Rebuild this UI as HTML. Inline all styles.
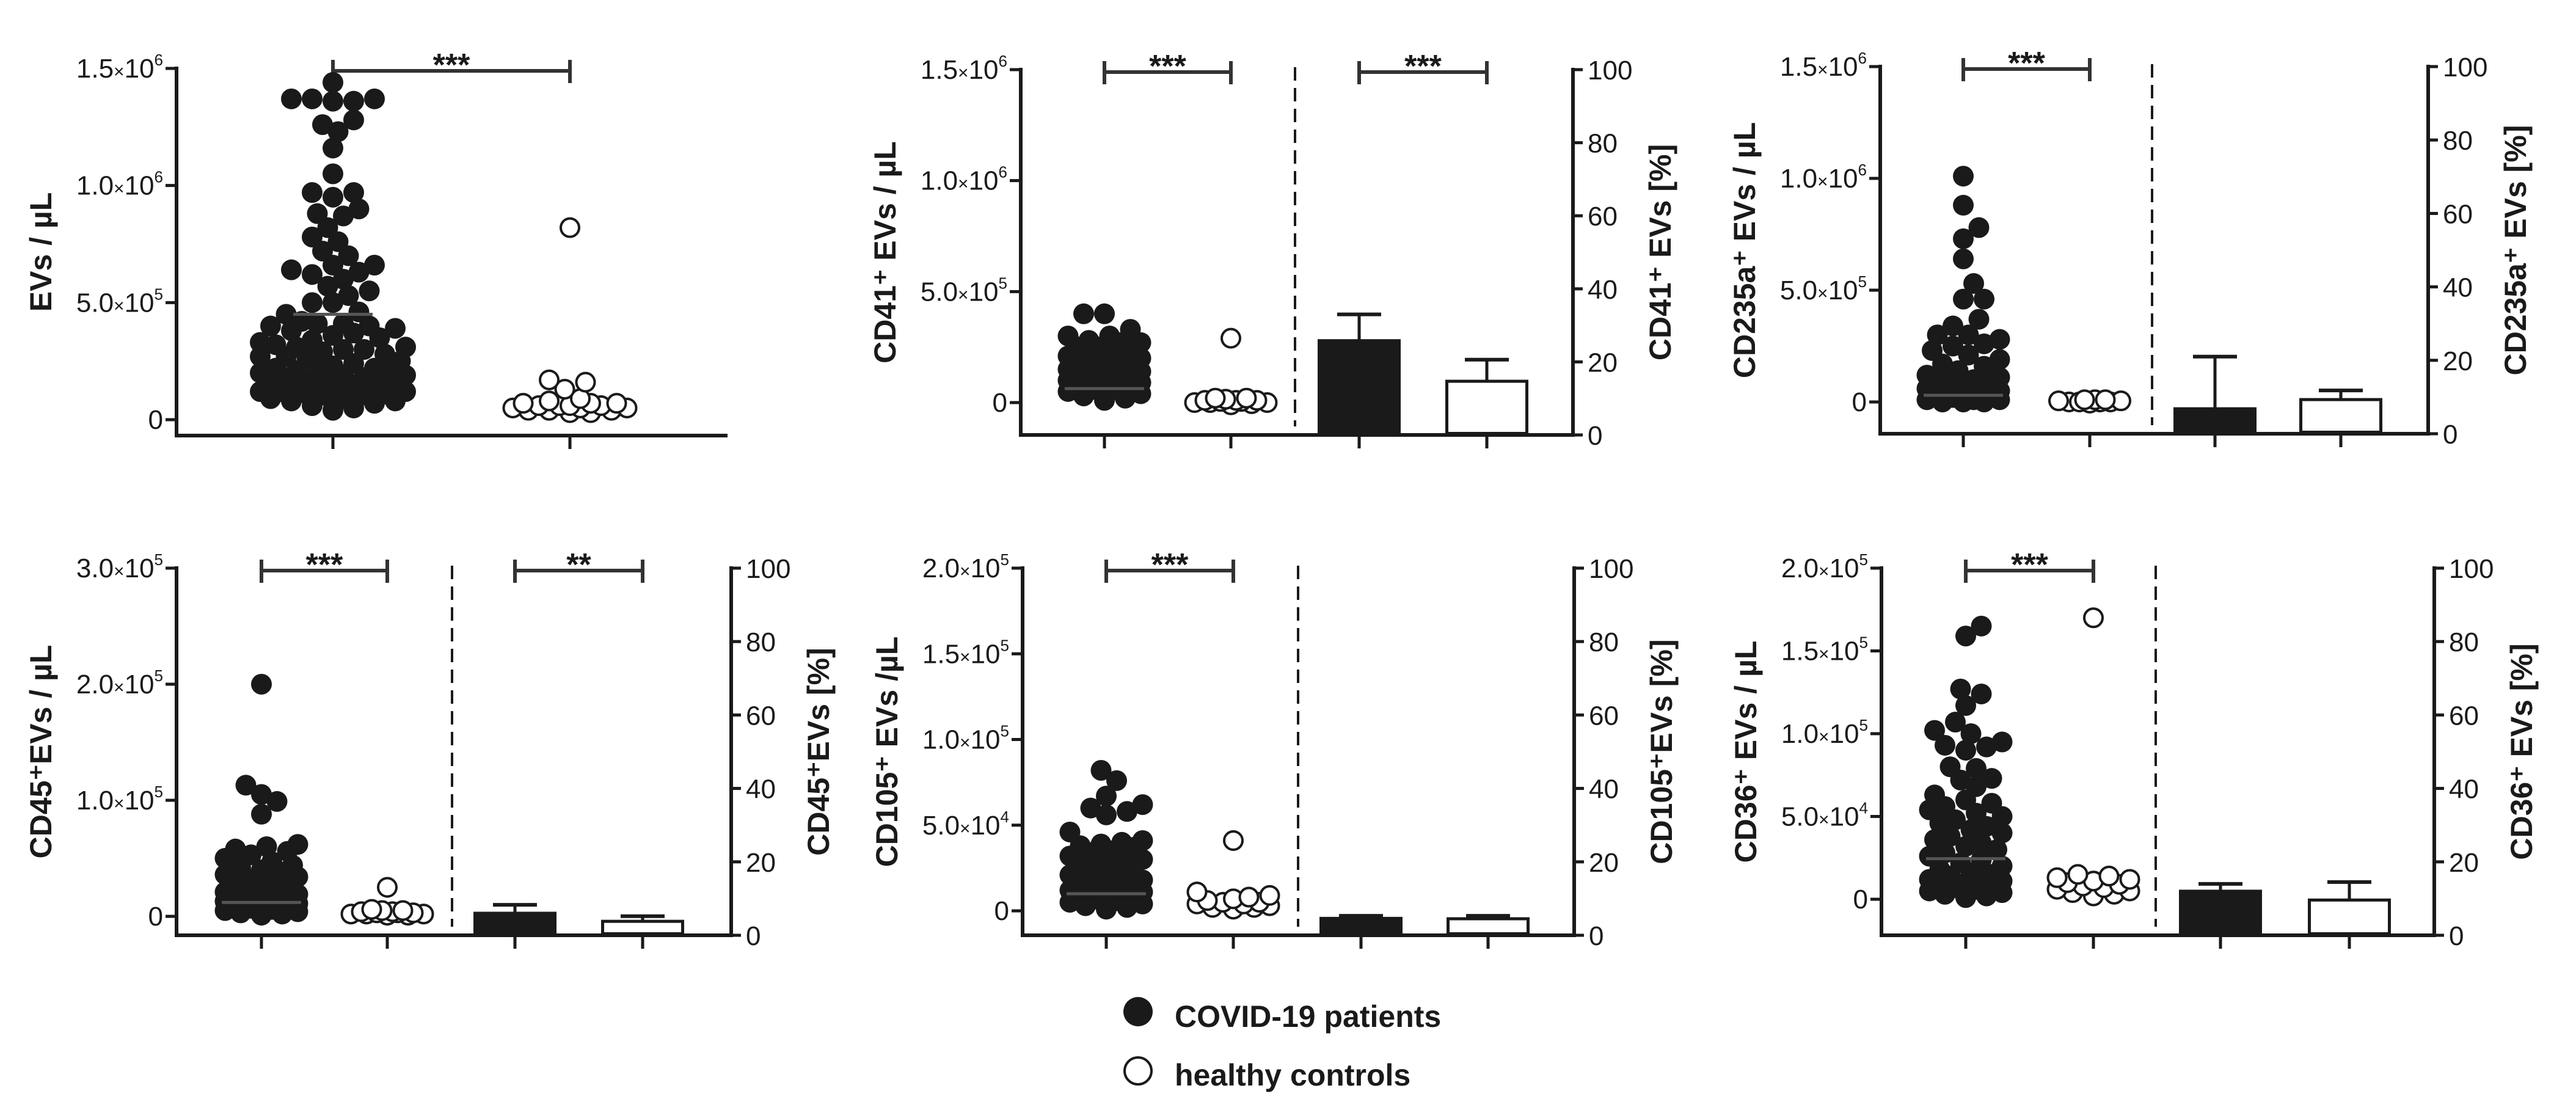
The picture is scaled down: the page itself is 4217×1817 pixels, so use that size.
<!DOCTYPE html>
<html><head><meta charset="utf-8"><style>
html,body{margin:0;padding:0;background:#fff;}
svg{display:block;font-family:"Liberation Sans",Arial,sans-serif;}
</style></head><body>
<svg id="fig" width="4217" height="1817" viewBox="0 0 4217 1817" xmlns="http://www.w3.org/2000/svg">
<g id="legend">
<circle cx="1863" cy="1656" r="24" fill="#1a1a1a"/>
<text x="1923" y="1681" font-size="50" font-weight="bold" fill="#1a1a1a">COVID-19 patients</text>
<circle cx="1863" cy="1753" r="22" fill="#fff" stroke="#1a1a1a" stroke-width="4"/>
<text x="1923" y="1777" font-size="50" font-weight="bold" fill="#1a1a1a">healthy controls</text>
</g>
</svg>
<script>
// ---- data ----
const covid1 = [1.44e6,1.37e6,1.36e6,1.36e6,1.37e6,1.37e6,1.28e6,1.26e6,1.23e6,1.16e6,1.05e6,0.97e6,0.95e6,0.97e6,0.90e6,0.87e6,0.88e6,0.82e6,0.78e6,0.76e6,0.72e6,0.70e6,0.66e6,0.66e6,0.63e6,0.64e6,0.62e6,0.60e6,0.57e6,0.53e6,0.55e6,0.50e6,0.50e6,0.46e6,0.45e6,0.42e6,0.41e6,0.41e6,0.40e6,0.40e6,0.39e6,0.38e6,0.37e6,0.36e6,0.35e6,0.34e6,0.33e6,0.32e6,0.31e6,0.31e6,0.30e6,0.30e6,0.29e6,0.28e6,0.27e6,0.27e6,0.26e6,0.25e6,0.24e6,0.23e6,0.22e6,0.22e6,0.21e6,0.21e6,0.20e6,0.20e6,0.19e6,0.19e6,0.18e6,0.18e6,0.17e6,0.17e6,0.16e6,0.16e6,0.15e6,0.15e6,0.14e6,0.14e6,0.13e6,0.13e6,0.12e6,0.12e6,0.12e6,0.11e6,0.11e6,0.10e6,0.10e6,0.09e6,0.09e6,0.08e6,0.08e6,0.07e6,0.06e6,0.05e6,0.04e6];
const healthy1 = [0.82e6,0.17e6,0.16e6,0.13e6,0.09e6,0.08e6,0.07e6,0.07e6,0.06e6,0.06e6,0.06e6,0.05e6,0.05e6,0.05e6,0.04e6,0.04e6,0.04e6,0.03e6,0.03e6,0.06e6,0.07e6];
const covid2 = [0.40e6,0.40e6,0.33e6,0.30e6,0.30e6,0.28e6,0.27e6,0.27e6,0.25e6,0.25e6,0.24e6,0.23e6,0.22e6,0.21e6,0.20e6,0.20e6,0.19e6,0.18e6,0.17e6,0.17e6,0.16e6,0.15e6,0.15e6,0.14e6,0.13e6,0.13e6,0.12e6,0.11e6,0.11e6,0.10e6,0.10e6,0.09e6,0.08e6,0.08e6,0.07e6,0.06e6,0.06e6,0.05e6,0.04e6,0.03e6,0.02e6,0.01e6];
const healthy2 = [0.29e6,0.02e6,0.02e6,0.015e6,0.01e6,0.01e6,0.01e6,0.005e6,0.005e6,0.0,0.0,0.0,-0.005e6,-0.01e6];
const covid3 = [1.01e6,0.88e6,0.78e6,0.73e6,0.64e6,0.53e6,0.46e6,0.46e6,0.37e6,0.34e6,0.30e6,0.28e6,0.30e6,0.26e6,0.25e6,0.23e6,0.21e6,0.19e6,0.17e6,0.16e6,0.14e6,0.12e6,0.11e6,0.10e6,0.09e6,0.08e6,0.07e6,0.06e6,0.05e6,0.04e6,0.03e6,0.03e6,0.02e6,0.02e6,0.01e6,0.01e6,0.01e6,0.0,0.0,0.0];
const healthy3 = [0.01e6,0.01e6,0.01e6,0.005e6,0.005e6,0.0,0.0,0.0,0.0,-0.005e6];
const covid4 = [2.0e5,1.13e5,1.05e5,0.99e5,0.88e5,0.62e5,0.60e5,0.58e5,0.56e5,0.53e5,0.50e5,0.47e5,0.44e5,0.42e5,0.40e5,0.38e5,0.36e5,0.34e5,0.32e5,0.30e5,0.28e5,0.26e5,0.24e5,0.22e5,0.21e5,0.20e5,0.19e5,0.18e5,0.17e5,0.16e5,0.15e5,0.14e5,0.13e5,0.12e5,0.11e5,0.10e5,0.09e5,0.08e5,0.07e5,0.06e5,0.05e5,0.04e5,0.03e5,0.02e5,0.01e5];
const healthy4 = [0.25e5,0.06e5,0.05e5,0.05e5,0.04e5,0.04e5,0.03e5,0.03e5,0.03e5,0.02e5,0.02e5,0.02e5,0.01e5,0.01e5];
const covid5 = [0.82e5,0.76e5,0.67e5,0.62e5,0.60e5,0.58e5,0.56e5,0.46e5,0.41e5,0.40e5,0.39e5,0.38e5,0.37e5,0.35e5,0.34e5,0.32e5,0.30e5,0.29e5,0.28e5,0.27e5,0.25e5,0.24e5,0.22e5,0.21e5,0.20e5,0.19e5,0.18e5,0.17e5,0.16e5,0.15e5,0.14e5,0.13e5,0.12e5,0.11e5,0.10e5,0.09e5,0.08e5,0.07e5,0.06e5,0.05e5,0.04e5,0.03e5,0.02e5,0.01e5];
const healthy5 = [0.41e5,0.11e5,0.09e5,0.08e5,0.07e5,0.06e5,0.05e5,0.05e5,0.04e5,0.04e5,0.03e5,0.02e5,0.02e5,0.01e5];
const covid6 = [1.65e5,1.59e5,1.27e5,1.24e5,1.17e5,1.07e5,1.02e5,1.00e5,0.95e5,0.93e5,0.92e5,0.90e5,0.80e5,0.79e5,0.73e5,0.72e5,0.68e5,0.63e5,0.60e5,0.58e5,0.56e5,0.54e5,0.52e5,0.50e5,0.48e5,0.46e5,0.44e5,0.42e5,0.40e5,0.38e5,0.36e5,0.34e5,0.32e5,0.30e5,0.28e5,0.26e5,0.24e5,0.22e5,0.20e5,0.18e5,0.16e5,0.15e5,0.14e5,0.13e5,0.12e5,0.11e5,0.10e5,0.09e5,0.08e5,0.07e5,0.06e5,0.05e5,0.04e5,0.03e5,0.02e5,0.01e5];
const healthy6 = [1.70e5,0.15e5,0.14e5,0.13e5,0.12e5,0.11e5,0.10e5,0.09e5,0.08e5,0.07e5,0.06e5,0.05e5,0.04e5,0.03e5,0.02e5];
const meanLines = [0.45e6, 0.063e6, 0.03e6, 0.12e5, 0.10e5, 0.245e5];
const barCovid = [null, 25.8, 6.8, 6.0, 4.6, 12.0];
const barCovidErr = [null, 33.0, 21.0, 8.3, 5.3, 14.0];
const barHealthy = [null, 14.7, 9.3, 3.8, 4.5, 9.6];
const barHealthyErr = [null, 20.6, 11.8, 5.2, 5.3, 14.5];
const leftTickValues1 = [0, 5e5, 1e6, 1.5e6];
const leftTickLabels1 = [["0"],["5.0","5"],["1.0","6"],["1.5","6"]];
const leftTickValues4 = [0, 1e5, 2e5, 3e5];
const leftTickLabels4 = [["0"],["1.0","5"],["2.0","5"],["3.0","5"]];
const leftTickValues5 = [0, 5e4, 1e5, 1.5e5, 2e5];
const leftTickLabels5 = [["0"],["5.0","4"],["1.0","5"],["1.5","5"],["2.0","5"]];
const rightTickValues = [0, 20, 40, 60, 80, 100];
const leftTitles = ["EVs / µL","CD41⁺ EVs / µL","CD235a⁺ EVs / µL","CD45⁺EVs / µL","CD105⁺ EVs /µL","CD36⁺ EVs / µL"];
const rightTitles = [null,"CD41⁺ EVs [%]","CD235a⁺ EVs [%]","CD45⁺EVs [%]","CD105⁺EVs [%]","CD36⁺ EVs [%]"];
const sigLeft = ["***","***","***","***","***","***"];
const sigRight = [null,"***",null,"**",null,null];

// ---- layout ----
const panels = [
 {L:289,R:1191,yTop:112,y0:687,yBot:713,max:1.5e6,cats:[545,933],wc:125,wh:100,dash:null,c:covid1,h:healthy1,tv:leftTickValues1,tl:leftTickLabels1},
 {L:1671,R:2575,yTop:114,y0:659,yBot:712,max:1.5e6,cats:[1808,2015,2225,2434],wc:65,wh:65,dash:2120,c:covid2,h:healthy2,tv:leftTickValues1,tl:leftTickLabels1},
 {L:3078,R:3975,yTop:109,y0:658,yBot:710,max:1.5e6,cats:[3214,3421,3626,3832],wc:65,wh:55,dash:3523,c:covid3,h:healthy3,tv:leftTickValues1,tl:leftTickLabels1},
 {L:289,R:1197,yTop:930,y0:1500,yBot:1531,max:3e5,cats:[428,634,843,1052],wc:62,wh:65,dash:740,c:covid4,h:healthy4,tv:leftTickValues4,tl:leftTickLabels4},
 {L:1674,R:2577,yTop:930,y0:1491,yBot:1531,max:2e5,cats:[1811,2019,2228,2436],wc:65,wh:65,dash:2125,c:covid5,h:healthy5,tv:leftTickValues5,tl:leftTickLabels5},
 {L:3080,R:3985,yTop:930,y0:1472,yBot:1531,max:2e5,cats:[3218,3427,3635,3846],wc:65,wh:65,dash:3529,c:covid6,h:healthy6,tv:leftTickValues5,tl:leftTickLabels5}
];
const NS = "http://www.w3.org/2000/svg";
const svg = document.getElementById('fig');
const INK = "#1a1a1a";
function mk(tag, attrs, parent){ const e=document.createElementNS(NS,tag); for(const k in attrs) e.setAttribute(k,attrs[k]); (parent||svg).appendChild(e); return e; }
const R = 17;
function swarm(vals, cx, yf, maxW){
  const pts=[]; const sorted=vals.slice().sort((a,b)=>a-b);
  const step=R*0.5;
  const offs=[0]; for(let k=1;k*step<=maxW;k++){offs.push(k*step);offs.push(-k*step);}
  const need=R*1.6;
  for(const v of sorted){
    const y=yf(v); let best=null,bestD=-1;
    for(const off of offs){
      const x=cx+off; let md=1e9;
      for(const p of pts){ const dx=p.x-x, dy=p.y-y; const d=Math.sqrt(dx*dx+dy*dy); if(d<md) md=d; }
      if(md>=need){best=x;break;}
      if(md>bestD){bestD=md;best=x;}
    }
    pts.push({x:best,y,v});
  }
  return pts;
}
panels.forEach((p,i)=>{
  const g = mk('g',{});
  
  
  const yL = v => p.y0 - (v/p.max)*(p.y0-p.yTop);
  const yR = v => p.yBot - (v/100)*(p.yBot-p.yTop);
  const la = mk('line',{x1:p.L,y1:p.yTop-3,x2:p.L,y2:p.yBot+3,stroke:INK,'stroke-width':6},g);
   
  const xa = mk('line',{x1:p.L-3,y1:p.yBot,x2:p.R,y2:p.yBot,stroke:INK,'stroke-width':6},g);
   
  p.cats.forEach(cx=>{ const t=mk('line',{x1:cx,y1:p.yBot,x2:cx,y2:p.yBot+22,stroke:INK,'stroke-width':5},g);
      });
  p.tv.forEach((v,j)=>{
    const y=yL(v);
    const t=mk('line',{x1:p.L-18,y1:y,x2:p.L,y2:y,stroke:INK,'stroke-width':5},g);
     
    const lab=p.tl[j];
    const tx=mk('text',{x:p.L-22,y:y+15,'font-size':44,'text-anchor':'end',fill:INK},g);
     
    if(lab.length===1){ tx.textContent=lab[0]; }
    else {
      const a=mk('tspan',{},tx); a.textContent=lab[0];
      const b=mk('tspan',{'font-size':30},tx); b.textContent='×';
      const c=mk('tspan',{},tx); c.textContent='10';
      const d=mk('tspan',{'font-size':26,dy:-20},tx); d.textContent=lab[1];
    }
  });
  const tcy=(p.yTop+p.yBot)/2, tcx=p.L-205;
  const lt=mk('text',{x:tcx,y:tcy,'font-size':50,'font-weight':'bold','text-anchor':'middle',fill:INK,transform:`rotate(-90 ${tcx} ${tcy})`},g);
   
  lt.textContent=leftTitles[i];
  if(rightTitles[i]){
    const ra=mk('line',{x1:p.R,y1:p.yTop-3,x2:p.R,y2:p.yBot+3,stroke:INK,'stroke-width':6},g);
     
    rightTickValues.forEach(v=>{
      const y=yR(v);
      const t=mk('line',{x1:p.R,y1:y,x2:p.R+16,y2:y,stroke:INK,'stroke-width':5},g);
       
      const tx=mk('text',{x:p.R+24,y:y+16,'font-size':44,fill:INK},g);
       
      tx.textContent=String(v);
    });
    const rcx=p.R+160;
    const rt=mk('text',{x:rcx,y:tcy,'font-size':50,'font-weight':'bold','text-anchor':'middle',fill:INK,transform:`rotate(-90 ${rcx} ${tcy})`},g);
     
    rt.textContent=rightTitles[i];
    const dl=mk('line',{x1:p.dash,y1:p.yTop-4,x2:p.dash,y2:p.yBot-14,stroke:INK,'stroke-width':4,'stroke-dasharray':'22 12'},g);
     
    const bw=136;
    [[barCovid[i],barCovidErr[i],p.cats[2],INK,'bar-covid'],[barHealthy[i],barHealthyErr[i],p.cats[3],'#fff','bar-healthy']].forEach(b=>{
      const yt=yR(b[0]), ye=yR(b[1]);
      const el=mk('line',{x1:b[2],y1:yt,x2:b[2],y2:ye,stroke:INK,'stroke-width':5},g);
       
      const cp=mk('line',{x1:b[2]-36,y1:ye,x2:b[2]+36,y2:ye,stroke:INK,'stroke-width':6},g);
       
      const r=mk('rect',{x:b[2]-bw/2+2.5,y:yt,width:bw-5,height:p.yBot-yt-2.5,fill:b[3],stroke:INK,'stroke-width':5},g);
       
    });
  }
  const bracket=(x1,x2,label,nm)=>{
    const by=p.yTop+4;
    const bg=mk('g',{},g);
     
    mk('line',{x1:x1,y1:by,x2:x2,y2:by,stroke:'#333','stroke-width':6},bg);
    mk('line',{x1:x1,y1:by-18,x2:x1,y2:by+20,stroke:'#333','stroke-width':6},bg);
    mk('line',{x1:x2,y1:by-18,x2:x2,y2:by+20,stroke:'#333','stroke-width':6},bg);
    const st=mk('text',{x:(x1+x2)/2,y:by+8,'font-size':52,'font-weight':'bold','text-anchor':'middle',fill:INK},bg);
    st.textContent=label;
  };
  bracket(p.cats[0],p.cats[1],sigLeft[i],'significance-bracket-counts');
  if(sigRight[i]) bracket(p.cats[2],p.cats[3],sigRight[i],'significance-bracket-percent');
  swarm(p.c,p.cats[0],yL,p.wc).forEach(pt=>{
    const c=mk('circle',{cx:pt.x,cy:pt.y,r:R,fill:INK},g);
     
  });
  const ml=mk('line',{x1:p.cats[0]-65,y1:yL(meanLines[i]),x2:p.cats[0]+65,y2:yL(meanLines[i]),stroke:'#555','stroke-width':5},g);
   
  swarm(p.h,p.cats[1],yL,p.wh).forEach(pt=>{
    const c=mk('circle',{cx:pt.x,cy:pt.y,r:R-2,fill:'#fff',stroke:INK,'stroke-width':4},g);
     
  });
});
</script>
</body></html>
